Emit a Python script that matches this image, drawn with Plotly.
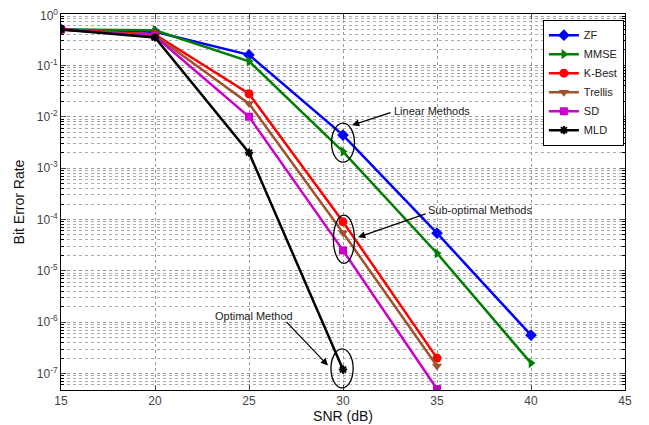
import plotly.graph_objects as go

snr = [15, 20, 25, 30, 35, 40]
zf = [0.5, 0.45, 0.16, 4.4e-3, 5.4e-5, 5.6e-7]
mmse = [0.5, 0.48, 0.12, 2.1e-3, 2.2e-5, 1.6e-7]
kbest = [0.5, 0.40, 0.028, 9.0e-5, 2.0e-7]
trellis = [0.5, 0.38, 0.018, 5.5e-5, 1.4e-7]
sd = [0.5, 0.37, 0.010, 2.5e-5, 5.0e-8]
mld = [0.5, 0.35, 2.0e-3, 1.2e-7]

ytick_vals = [1e-7, 1e-6, 1e-5, 1e-4, 1e-3, 1e-2, 1e-1, 1e0]
ytick_text = ["10<sup>-7</sup>", "10<sup>-6</sup>", "10<sup>-5</sup>", "10<sup>-4</sup>",
              "10<sup>-3</sup>", "10<sup>-2</sup>", "10<sup>-1</sup>", "10<sup>0</sup>"]
xtick_vals = [15, 20, 25, 30, 35, 40, 45]

series = [
    ("ZF", zf, "#0000FF", "diamond", 9),
    ("MMSE", mmse, "#007F00", "triangle-right", 9),
    ("K-Best", kbest, "#FF0000", "circle", 9),
    ("Trellis", trellis, "#A0522D", "triangle-down", 9),
    ("SD", sd, "#CC00CC", "square", 8),
    ("MLD", mld, "#000000", "asterisk", 7),
]

fig = go.Figure()
for name, vals, col, sym, sz in series:
    fig.add_trace(go.Scatter(
        x=snr[:len(vals)], y=vals, name=name, mode="lines+markers",
        line=dict(color=col, width=2.5),
        marker=dict(symbol=sym, size=sz, color=col,
                    line=dict(color=col, width=2 if sym == "asterisk" else 0)),
    ))

font = "Arial, Liberation Sans, sans-serif"

# ellipses: centre x, centre log10(y), half-width (SNR units), half-height (decades)
ellipses = [(30, -2.505, 0.61, 0.38), (30.05, -4.386, 0.56, 0.47), (29.95, -6.90, 0.59, 0.38)]
for xc, yc, hw, hh in ellipses:
    fig.add_shape(type="circle", xref="x", yref="y", layer="above",
                  x0=xc - hw, x1=xc + hw, y0=10 ** (yc - hh), y1=10 ** (yc + hh),
                  line=dict(color="black", width=1.3))

# arrows: head x, head log10(y), tail offset in px
arrows = [(30.48, -2.164, 40, -13), (30.80, -4.347, 69, -24), (29.20, -6.842, -43, -45)]
for x, y, ax, ay in arrows:
    fig.add_annotation(x=x, y=y, ax=ax, ay=ay, text="", showarrow=True,
                       arrowhead=2, arrowsize=1.2, arrowwidth=1.2, arrowcolor="black")

labels = [("Linear Methods", 32.66, -1.891, "left"),
          ("Sub-optimal Methods", 34.47, -3.82, "left"),
          ("Optimal Method", 27.39, -5.87, "right")]
for t, x, y, xa in labels:
    fig.add_annotation(x=x, y=y, text=t, showarrow=False, xanchor=xa, yanchor="middle",
                       borderpad=0, font=dict(family=font, size=11, color="#222"))

# top tick label drawn as annotation (the axis would hide it at the figure edge)
fig.add_annotation(xref="paper", x=0, yref="y", y=0, text=ytick_text[-1], showarrow=False,
                   xanchor="right", yanchor="middle", xshift=-2, yshift=-1, borderpad=0,
                   font=dict(family=font, size=12, color="#444"))

# page body has an 8px margin: shrink figure and margins to land the plot area at x 61-625, y 14-390
fig.update_layout(
    width=641, height=417,
    margin=dict(l=53, r=24, t=6, b=35, autoexpand=False),
    paper_bgcolor="white", plot_bgcolor="white",
    font=dict(family=font, size=11, color="#222"),
    showlegend=True,
    legend=dict(x=0.998, y=0.985, xanchor="right", yanchor="top",
                bgcolor="white", bordercolor="black", borderwidth=1,
                font=dict(family=font, size=11, color="#222"),
                itemwidth=30, tracegroupgap=0),
)

fig.update_xaxes(
    range=[15, 45], tickvals=xtick_vals, ticks="inside", ticklen=5, automargin=False,
    showline=True, linecolor="black", linewidth=1, mirror="allticks",
    showgrid=True, gridcolor="#999", griddash="dot", gridwidth=1,
    zeroline=False,
    title=dict(text="SNR (dB)", font=dict(family=font, size=14, color="#111"), standoff=0),
    tickfont=dict(family=font, size=12, color="#444"),
)

minor_vals = [k * 10.0 ** n for n in range(-8, 0) for k in range(2, 10)]
fig.update_yaxes(
    type="log", range=[-7.32, 0], tickvals=ytick_vals, ticktext=ytick_text[:-1] + [""],
    ticks="inside", ticklen=5, automargin=False,
    showline=True, linecolor="black", linewidth=1, mirror="allticks",
    showgrid=True, gridcolor="#999", griddash="dot", gridwidth=1,
    minor=dict(tickvals=minor_vals, ticks="inside", ticklen=3, tickcolor="black",
               showgrid=True, gridcolor="#aaa", griddash="dot", gridwidth=1),
    zeroline=False,
    title=dict(text="Bit Error Rate", font=dict(family=font, size=14, color="#111"), standoff=8),
    tickfont=dict(family=font, size=12, color="#444"),
)

fig.write_html("out.html")
